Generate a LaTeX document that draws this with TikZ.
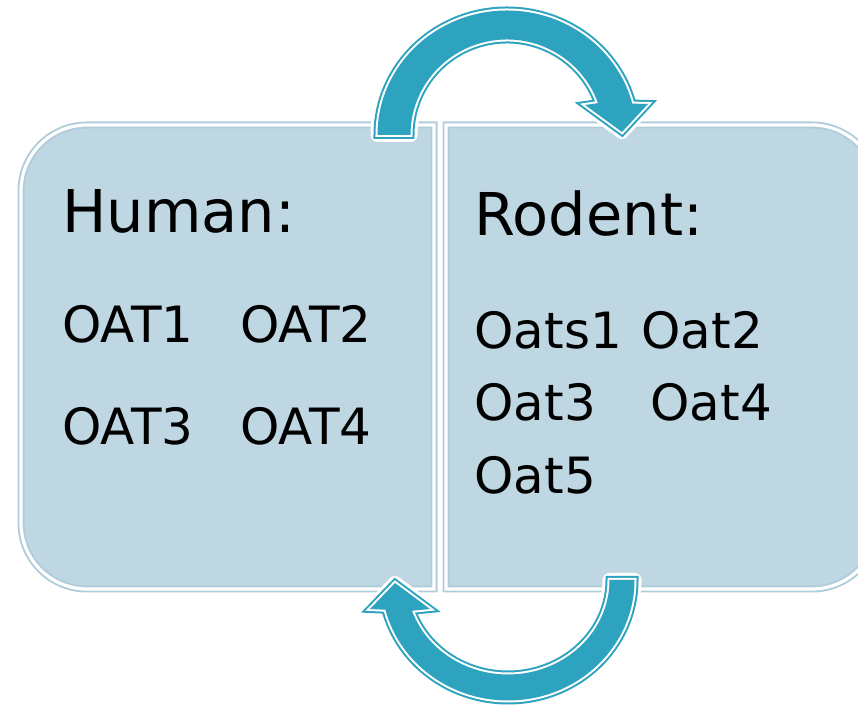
\documentclass[tikz,border=0pt]{standalone}
\usepackage{fontspec}
\setmainfont{DejaVu Sans}
\usetikzlibrary{calc}
\definecolor{boxfill}{HTML}{BFD7E2}
\definecolor{boxline}{HTML}{AFCCDA}
\definecolor{arrteal}{HTML}{2EA3BF}
\tikzset{
  lbl/.style={anchor=base west, inner sep=0pt, font=\fontsize{25}{29}\selectfont},
  head/.style={anchor=base west, inner sep=0pt, font=\fontsize{29.5}{33}\selectfont},
}
\newcommand{\boxedpath}[1]{%
  \fill[boxfill] #1;
  \draw[boxline, line width=3.5pt] #1;
  \draw[white, line width=1.6pt] #1;
}
\newcommand{\arrowpath}[1]{%
  \draw[white, line width=7pt, line join=round] #1;
  \draw[arrteal, line width=4pt, line join=miter] #1;
  \draw[white, line width=2pt, line join=miter] #1;
  \fill[arrteal] #1;
}
\begin{document}
\begin{tikzpicture}[x=0.5pt, y=0.5pt]
\useasboundingbox (0,0) rectangle (858,705);
\clip (0,0) rectangle (858,705);
% left box
\boxedpath{(434,580) -- (87,580) arc[start angle=90, end angle=180, radius=33pt] -- (21,182) arc[start angle=180, end angle=270, radius=33pt] -- (434,116) -- cycle}
% right box
\boxedpath{(446,580) -- (812,580) arc[start angle=90, end angle=0, radius=33pt] -- (878,182) arc[start angle=0, end angle=-90, radius=33pt] -- (446,116) -- cycle}
% top arrow
\coordinate (c1) at (507,570);
\coordinate (t1) at ($(c1)+(180:64.75pt and 62.25pt)$);
\coordinate (t1in) at ($(c1)+(19.5:48.25pt and 47.75pt)$);
\coordinate (t1rb) at (648,601);
\coordinate (t1tip) at (622,573);
\coordinate (t1lb) at (585,600);
\arrowpath{(t1) arc[start angle=180, end angle=14.6, x radius=64.75pt, y radius=62.25pt] -- (t1rb) -- (t1tip) -- (t1lb) -- (t1in) arc[start angle=19.5, end angle=180, x radius=48.25pt, y radius=47.75pt] -- cycle}
% bottom arrow
\coordinate (c2) at (508,125);
\coordinate (b1) at ($(c2)+(0:63.25pt and 60.25pt)$);
\coordinate (b1in) at ($(c2)+(-161:50.75pt and 47.25pt)$);
\coordinate (b1lb) at (370,96);
\coordinate (b1tip) at (395,122);
\coordinate (b1rb) at (430,96);
\arrowpath{(b1) arc[start angle=0, end angle=-165.7, x radius=63.25pt, y radius=60.25pt] -- (b1lb) -- (b1tip) -- (b1rb) -- (b1in) arc[start angle=-161, end angle=0, x radius=50.75pt, y radius=47.25pt] -- cycle}
% texts
\node[head] (human) at (62,472) {Human:};
\node[lbl] (oat1) at (62,362) {OAT1};
\node[lbl] (oat2) at (240,362) {OAT2};
\node[lbl] (oat3) at (62,260) {OAT3};
\node[lbl] (oat4) at (240,260) {OAT4};
\node[head] (rodent) at (474,469) {Rodent:};
\node[lbl] (oats1) at (474,356) {Oats1};
\node[lbl] (r2) at (641,356) {Oat2};
\node[lbl] (r3) at (474,284) {Oat3};
\node[lbl] (r4) at (650,284) {Oat4};
\node[lbl] (r5) at (474,211) {Oat5};
\end{tikzpicture}
\end{document}
